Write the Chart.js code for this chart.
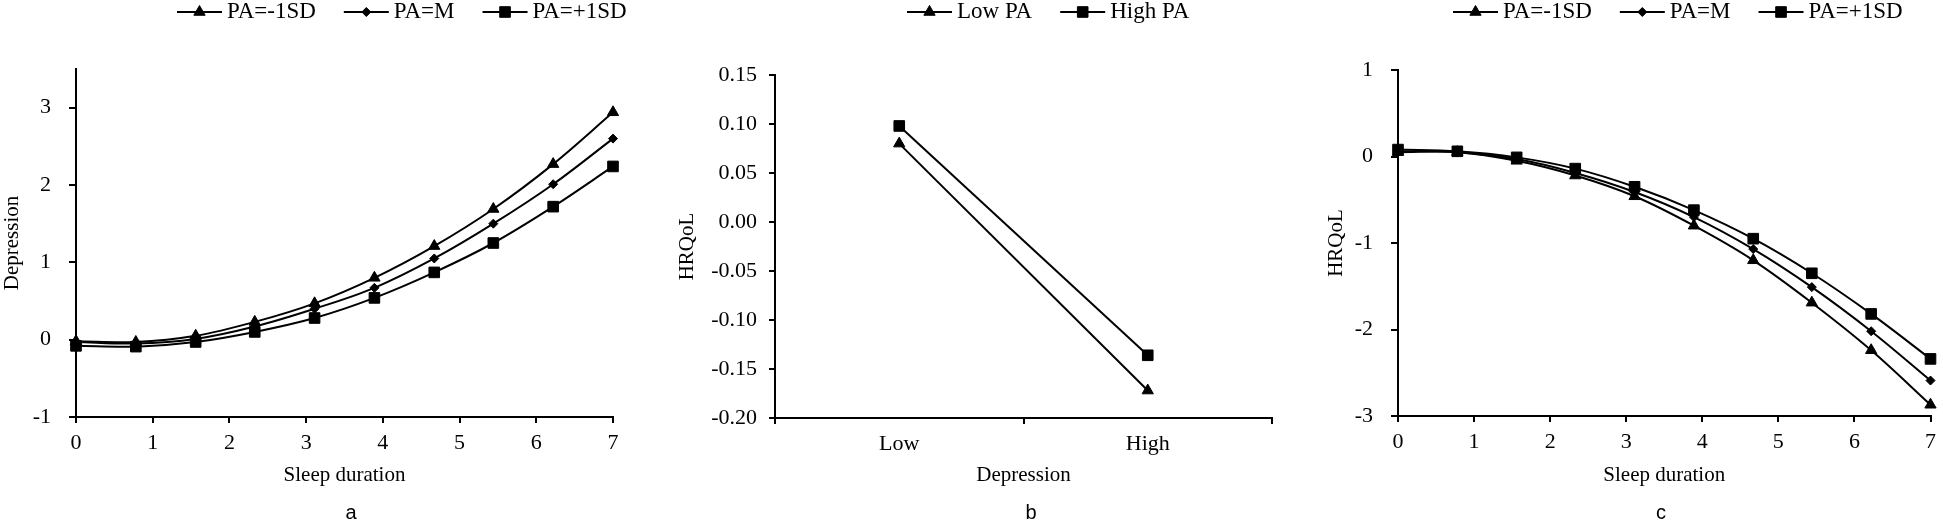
<!DOCTYPE html>
<html>
<head>
<meta charset="utf-8">
<title>Sleep duration, depression, PA and HRQoL</title>
<script src="https://cdn.jsdelivr.net/npm/chart.js"></script>
<style>
  body { margin: 0; background: #fff; width: 1943px; height: 522px; overflow: hidden; }
  canvas { position: absolute; top: 0; }
</style>
</head>
<body>
<canvas id="chartA" width="650" height="522" style="left:0"></canvas>
<canvas id="chartB" width="650" height="522" style="left:650px"></canvas>
<canvas id="chartC" width="643" height="522" style="left:1300px"></canvas>
<script>
// sleep duration values where the slopes were plotted (panels a and c)
const sleepHours = [0, 0.78, 1.56, 2.33, 3.11, 3.89, 4.67, 5.44, 6.22, 7];

// panel a: depression by sleep duration
const depLowPA = [-0.02, -0.03, 0.05, 0.23, 0.47, 0.80, 1.21, 1.69, 2.27, 2.94];
const depMeanPA = [-0.03, -0.05, 0.01, 0.17, 0.40, 0.67, 1.05, 1.50, 2.01, 2.60];
const depHighPA = [-0.08, -0.09, -0.03, 0.10, 0.28, 0.54, 0.87, 1.25, 1.72, 2.24];

// panel b: HRQoL by depression level
const depressionLevels = ["Low", "High"];
const hrqolLowPA = [0.080, -0.172];
const hrqolHighPA = [0.098, -0.136];

// panel c: HRQoL by sleep duration
const qolLowPA = [0.05, 0.05, -0.05, -0.22, -0.46, -0.80, -1.20, -1.69, -2.24, -2.87];
const qolMeanPA = [0.06, 0.05, -0.03, -0.19, -0.41, -0.70, -1.07, -1.51, -2.02, -2.59];
const qolHighPA = [0.08, 0.06, -0.01, -0.14, -0.35, -0.62, -0.95, -1.35, -1.82, -2.34];

const paLabels = ["PA=-1SD", "PA=M", "PA=+1SD"];
const paGroups = ["Low PA", "High PA"];
const markerStyles = { triangle: 6.5, rectRot: 4.5, rect: 7.5 }; // style -> radius

Chart.defaults.font.family = '"Liberation Serif", "Times New Roman", serif';
Chart.defaults.font.size = 22;
Chart.defaults.color = "#000";

// draws the line+marker legend on top and the panel letter underneath
const figureText = {
  id: "figureText",
  afterDraw(chart, args, opts) {
    const ctx = chart.ctx;
    ctx.save();
    ctx.fillStyle = "#000";
    ctx.strokeStyle = "#000";
    ctx.font = '23px "Liberation Serif"';
    ctx.textBaseline = "middle";
    let x = opts.x;
    chart.data.datasets.forEach((ds) => {
      ctx.lineWidth = 2;
      ctx.beginPath();
      ctx.moveTo(x, opts.y);
      ctx.lineTo(x + 45, opts.y);
      ctx.stroke();
      ctx.lineWidth = 1;
      Chart.helpers.drawPoint(ctx, { pointStyle: ds.pointStyle, radius: ds.pointRadius, rotation: 0, borderWidth: 1 }, x + 22.5, opts.y);
      ctx.fillText(ds.label, x + 50, opts.y);
      x += 50 + ctx.measureText(ds.label).width + 28;
    });
    ctx.font = '20px "Liberation Sans"';
    ctx.textAlign = "center";
    ctx.textBaseline = "alphabetic";
    ctx.fillText(opts.caption, opts.captionX, 519);
    ctx.restore();
  },
};

function lineSet(label, style, data, smooth) {
  return {
    label,
    data,
    borderColor: "#000",
    borderWidth: 2,
    backgroundColor: "#000",
    pointStyle: style,
    pointRadius: markerStyles[style],
    pointBackgroundColor: "#000",
    pointBorderColor: "#000",
    pointBorderWidth: 1,
    tension: smooth ? 0.35 : 0,
    clip: false,
  };
}

function toXY(vals) {
  return vals.map((y, i) => ({ x: sleepHours[i], y }));
}

function axisLines(tickLength) {
  return {
    grid: { drawOnChartArea: false, drawTicks: true, tickLength, color: "#000", lineWidth: 2 },
    border: { color: "#000", width: 2 },
  };
}

function sleepAxis(height, titlePad) {
  return {
    type: "linear",
    min: 0,
    max: 7,
    ticks: { stepSize: 1, padding: 7 },
    ...axisLines(6),
    title: { display: true, text: "Sleep duration", font: { size: 21 }, padding: { top: 0, bottom: titlePad } },
    afterFit: (s) => { s.height = height; },
  };
}

function baseOptions(padding, text) {
  return {
    responsive: false,
    animation: false,
    devicePixelRatio: 1,
    layout: { padding },
    plugins: { legend: { display: false }, tooltip: { enabled: false }, figureText: text },
  };
}

// panel a
new Chart(document.getElementById("chartA"), {
  type: "line",
  data: {
    datasets: [
      lineSet(paLabels[0], "triangle", toXY(depLowPA), true),
      lineSet(paLabels[1], "rectRot", toXY(depMeanPA), true),
      lineSet(paLabels[2], "rect", toXY(depHighPA), true),
    ],
  },
  options: {
    ...baseOptions({ top: 69, right: 37, bottom: 30, left: 0 }, { x: 177, y: 12, caption: "a", captionX: 351 }),
    scales: {
      x: sleepAxis(75, 4),
      y: {
        min: -1,
        max: 3.5,
        ticks: { stepSize: 1, padding: 18 },
        ...axisLines(7),
        afterBuildTicks: (s) => { s.ticks = s.ticks.filter((t) => Number.isInteger(t.value)); },
        title: { display: true, text: "Depression", font: { size: 21 }, padding: { top: 0, bottom: 0 } },
        afterFit: (s) => { s.width = 76; },
      },
    },
  },
  plugins: [figureText],
});

// panel b
new Chart(document.getElementById("chartB"), {
  type: "line",
  data: {
    labels: depressionLevels,
    datasets: [
      lineSet(paGroups[0], "triangle", hrqolLowPA, false),
      lineSet(paGroups[1], "rect", hrqolHighPA, false),
    ],
  },
  options: {
    ...baseOptions({ top: 75, right: 28, bottom: 29, left: 0 }, { x: 257, y: 12, caption: "b", captionX: 381 }),
    scales: {
      x: {
        type: "category",
        offset: true,
        ticks: { padding: 7 },
        ...axisLines(6),
        grid: { offset: true, drawOnChartArea: false, drawTicks: true, tickLength: 6, color: "#000", lineWidth: 2 },
        title: { display: true, text: "Depression", font: { size: 21 }, padding: { top: 0, bottom: 5 } },
        afterFit: (s) => { s.height = 75; },
      },
      y: {
        min: -0.2,
        max: 0.15,
        ticks: {
          stepSize: 0.05,
          padding: 12,
          callback: (v) => (Math.abs(v) < 1e-9 ? 0 : v).toFixed(2),
        },
        ...axisLines(6),
        title: { display: true, text: "HRQoL", font: { size: 21 }, padding: { top: 25, bottom: 0 } },
        afterFit: (s) => { s.width = 125; },
      },
    },
  },
  plugins: [figureText],
});

// panel c
new Chart(document.getElementById("chartC"), {
  type: "line",
  data: {
    datasets: [
      lineSet(paLabels[0], "triangle", toXY(qolLowPA), true),
      lineSet(paLabels[1], "rectRot", toXY(qolMeanPA), true),
      lineSet(paLabels[2], "rect", toXY(qolHighPA), true),
    ],
  },
  options: {
    ...baseOptions({ top: 70, right: 8, bottom: 31, left: 0 }, { x: 153, y: 12, caption: "c", captionX: 361 }),
    scales: {
      x: sleepAxis(75, 3),
      y: {
        min: -3,
        max: 1,
        ticks: { stepSize: 1, padding: 18 },
        ...axisLines(7),
        title: { display: true, text: "HRQoL", font: { size: 21 }, padding: { top: 24, bottom: 0 } },
        afterFit: (s) => { s.width = 98; },
      },
    },
  },
  plugins: [figureText],
});
</script>
</body>
</html>
